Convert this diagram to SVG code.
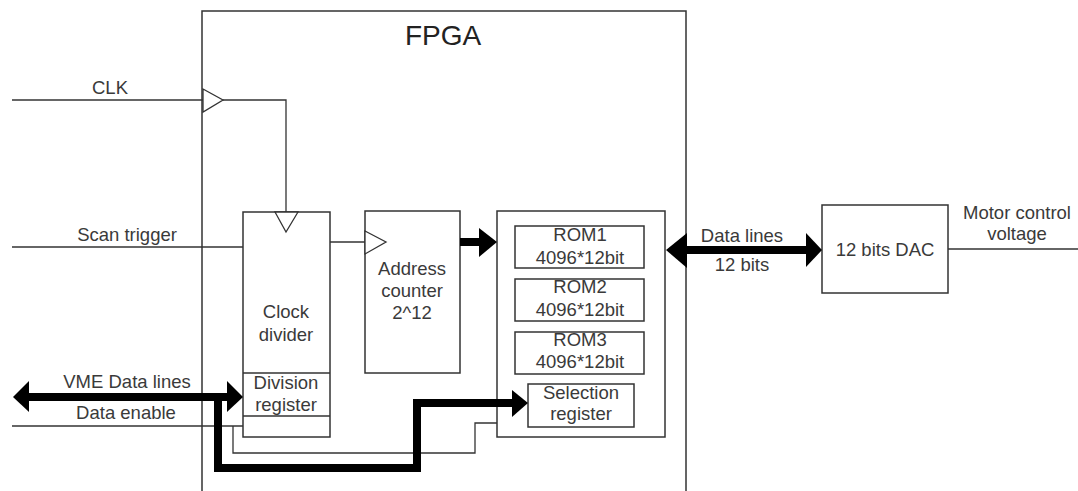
<svg xmlns="http://www.w3.org/2000/svg" width="1078" height="491" viewBox="0 0 1078 491">
<style>
.box{fill:#fff;stroke:#333;stroke-width:1.5}
.ln{fill:none;stroke:#333;stroke-width:1.3}
.tri{fill:#fff;stroke:#333;stroke-width:1.3}
.thk{fill:none;stroke:#000;stroke-width:8}
.hd{fill:#000}
text{font-family:"Liberation Sans",Arial,sans-serif;font-size:18.5px;fill:#3a3a3a;text-anchor:middle}
.big{font-size:28px;fill:#222}
</style>
<rect width="1078" height="491" fill="#fff"/>
<g id="fpga">
<rect class="box" x="202" y="11" width="484" height="500"/>
<text class="big" x="443" y="45">FPGA</text>
</g>
<g id="clock-divider">
<rect class="box" x="243" y="212" width="87" height="225"/>
<polygon class="tri" points="275,212 298,212 286,232"/>
<line class="ln" x1="243" y1="373" x2="330" y2="373"/>
<line class="ln" x1="243" y1="416" x2="330" y2="416"/>
<text x="286" y="318">Clock</text>
<text x="286" y="341">divider</text>
<text x="286" y="389">Division</text>
<text x="286" y="411">register</text>
</g>
<g id="address-counter">
<rect class="box" x="365" y="211" width="95" height="162"/>
<polygon class="tri" points="365,231 386,242 365,254"/>
<text x="412" y="275">Address</text>
<text x="412" y="297">counter</text>
<text x="412" y="319">2^12</text>
</g>
<g id="rom-block">
<rect class="box" x="497" y="211" width="168" height="226"/>
</g>
<g id="rom1">
<rect class="box" x="515" y="226" width="129" height="42"/>
<text x="580" y="241">ROM1</text>
<text x="580" y="264">4096*12bit</text>
</g>
<g id="rom2">
<rect class="box" x="515" y="279" width="129" height="42"/>
<text x="580" y="293">ROM2</text>
<text x="580" y="316">4096*12bit</text>
</g>
<g id="rom3">
<rect class="box" x="515" y="332" width="129" height="42"/>
<text x="580" y="346">ROM3</text>
<text x="580" y="368">4096*12bit</text>
</g>
<g id="selection-register">
<rect class="box" x="528" y="384" width="106" height="43"/>
<text x="581" y="399">Selection</text>
<text x="581" y="420">register</text>
</g>
<g id="dac">
<rect class="box" x="822" y="205" width="126" height="88"/>
<text x="885" y="256">12 bits DAC</text>
</g>
<g id="connectors">
<path class="ln" d="M12,100 H203"/>
<path class="ln" d="M223,100 H286 V212"/>
<path class="ln" d="M12,247 H243"/>
<path class="ln" d="M330,242 H365"/>
<path class="ln" d="M12,426 H243"/>
<path class="ln" d="M233,426 V453 H475 V423 H497"/>
<path class="ln" d="M948,249 H1078"/>
<path class="thk" d="M460,242 H481"/>
<polygon class="hd" points="479,228 497,242 479,257"/>
<path class="thk" d="M685,250 H808"/>
<polygon class="hd" points="666,250 687,233 687,268"/>
<polygon class="hd" points="822,250 806,233 806,267"/>
<path class="thk" d="M27,397 H229"/>
<polygon class="hd" points="13,397 29,381 29,412"/>
<polygon class="hd" points="243,397 227,381 227,412"/>
<path class="thk" d="M218,397 V468 H417 V403 H514"/>
<polygon class="hd" points="528,403 512,390 512,417"/>
<polygon class="tri" points="203,89 223,100 203,112"/>
</g>
<g id="labels">
<text x="110" y="94">CLK</text>
<text x="127" y="241">Scan trigger</text>
<text x="127" y="388">VME Data lines</text>
<text x="126" y="419">Data enable</text>
<text x="742" y="242">Data lines</text>
<text x="742" y="271">12 bits</text>
<text x="1017" y="219">Motor control</text>
<text x="1017" y="240">voltage</text>
</g>
</svg>
